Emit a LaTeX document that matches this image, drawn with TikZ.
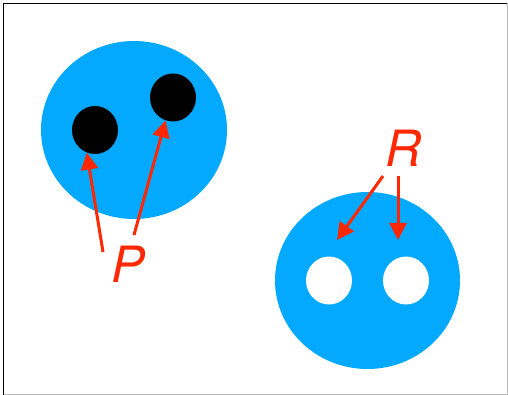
\documentclass[tikz,border=0pt]{standalone}
\usepackage{fontspec}
\setmainfont{TeX Gyre Heros}
\usetikzlibrary{arrows.meta,shapes.geometric}
\definecolor{discblue}{RGB}{3,169,255}
\definecolor{labelred}{RGB}{255,40,0}
\tikzset{
  disc/.style={ellipse, fill=discblue, inner sep=0pt,
    minimum width=186pt, minimum height=178pt},
  dot/.style={ellipse, fill=black, inner sep=0pt,
    minimum width=46pt, minimum height=48pt},
  hole/.style={ellipse, fill=white, inner sep=0pt,
    minimum width=46pt, minimum height=48pt},
  tag/.style={text=labelred, inner sep=0pt,
    font=\fontsize{50}{50}\selectfont\itshape},
  pointer/.style={-{Triangle[length=17pt,width=17pt]}, draw=labelred,
    line width=3pt}
}
\begin{document}
\begin{tikzpicture}[x=1pt, y=-1pt]
  \useasboundingbox (0,0) rectangle (508,395);
  \draw[line width=1.2pt] (3.5,395) -- (3.5,3.5) -- (508,3.5);
  \draw[gray!55] (507,3.5) -- (507,394.5) -- (3.5,394.5);
  % left disc with two dots
  \node[disc] (solid) at (134,130) {};
  \node[dot] (dotA) at (95,130) {};
  \node[dot] (dotB) at (173,97.5) {};
  % right disc with two holes
  \node[disc, minimum width=185pt, minimum height=177pt] (holed) at (367.5,280.5) {};
  \node[hole] (holeA) at (329,280.5) {};
  \node[hole] (holeB) at (406,280.5) {};
  % labels
  \node[tag] (P) at (128.5,264.5) {P};
  \node[tag] (R) at (404,148) {R};
  \coordinate (pA) at (103,252);
  \coordinate (pB) at (134,235);
  \coordinate (rA) at (383,176);
  \coordinate (rB) at (398,176);
  \coordinate (tipA) at (337,240);
  \coordinate (tipB) at (398,240);
  \draw[pointer] (pA) -- (dotA.250);
  \draw[pointer] (pB) -- (dotB.252);
  \draw[pointer] (rA) -- (tipA);
  \draw[pointer] (rB) -- (tipB);
\end{tikzpicture}
\end{document}
